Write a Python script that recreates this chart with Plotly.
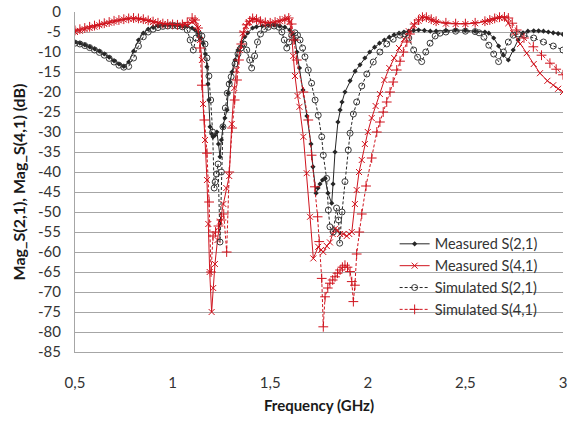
import plotly.graph_objects as go

# ---------------- data ----------------
x_tick_vals = [0.5, 1.0, 1.5, 2.0, 2.5, 3.0]
x_tick_text = ["0,5", "1", "1,5", "2", "2,5", "3"]
y_tick_vals = [0, -5, -10, -15, -20, -25, -30, -35, -40, -45, -50, -55, -60, -65, -70, -75, -80, -85]
y_tick_text = ["0", "-5", "-10", "-15", "-20", "-25", "-30", "-35", "-40", "-45", "-50", "-55",
               "-60", "-65", "-70", "-75", "-80", "-85"]

# Measured S(2,1)
meas21_f = [0.5, 0.525, 0.55, 0.575, 0.6, 0.625, 0.65, 0.675, 0.7, 0.725, 0.75, 0.775, 0.8, 0.825,
            0.85, 0.875, 0.9, 0.925, 0.95, 0.975, 1.0, 1.025, 1.05, 1.075, 1.1,
            1.115, 1.13, 1.145, 1.156, 1.168, 1.176, 1.181, 1.186, 1.192, 1.2, 1.207, 1.217, 1.227,
            1.235, 1.243, 1.25, 1.258, 1.268, 1.279, 1.284, 1.294, 1.304, 1.32, 1.335, 1.355, 1.37,
            1.385, 1.41,
            1.43, 1.46, 1.49, 1.52, 1.55, 1.575, 1.6, 1.615, 1.627, 1.637, 1.65, 1.668, 1.688, 1.709,
            1.719, 1.735, 1.745, 1.755, 1.768, 1.781, 1.796, 1.815, 1.822, 1.832, 1.847, 1.858, 1.868,
            1.883, 1.909, 1.935, 1.96, 1.985, 2.01, 2.035, 2.06, 2.085, 2.11, 2.135, 2.16, 2.185, 2.21,
            2.235,
            2.26, 2.29, 2.32, 2.35, 2.4, 2.45, 2.5, 2.55, 2.6, 2.62, 2.645, 2.67, 2.695, 2.72, 2.745,
            2.77, 2.795, 2.82, 2.85, 2.875, 2.9, 2.925, 2.95, 2.975, 3.0]
meas21_db = [-7.5, -7.8, -8.2, -8.7, -9.2, -9.8, -10.5, -11.3, -12.2, -13.0, -13.6, -12.5, -9.8, -7.0,
             -5.3, -4.3, -3.8, -3.5, -3.3, -3.2, -3.2, -3.3, -3.5, -3.6, -4.0,
             -4.5, -5.2, -6.5, -7.8, -10.5, -13.7, -18.0, -22.0, -28.7, -30.5, -31.2, -30.8, -30.0,
             -33.0, -36.2, -32.0, -28.7, -26.5, -24.5, -20.3, -17.5, -15.0, -12.0, -9.5, -7.5, -6.2,
             -5.2, -4.0,
             -3.7, -3.5, -3.3, -3.3, -3.5, -3.8, -4.5, -5.5, -7.0, -10.0, -14.0, -19.5, -26.0, -33.0,
             -38.7, -45.3, -44.0, -43.0, -42.0, -41.6, -45.3, -47.8, -43.0, -35.0, -27.5, -24.5, -22.5,
             -20.0, -17.2, -14.8, -13.2, -11.5, -10.0, -8.8, -7.8, -7.0, -6.3, -5.7, -5.3, -5.0, -4.8,
             -4.6,
             -4.5, -4.6, -4.8, -4.8, -4.6, -4.5, -4.6, -4.8, -5.0, -5.3, -6.5, -8.5, -10.8, -12.0, -9.5,
             -7.0, -5.2, -4.8, -4.7, -4.7, -4.8, -5.0, -5.2, -5.4, -5.6]

# Measured S(4,1)
meas41_f = [0.5, 0.525, 0.55, 0.575, 0.6, 0.625, 0.65, 0.675, 0.7, 0.725, 0.75, 0.775, 0.8, 0.825,
            0.85, 0.875, 0.9, 0.925, 0.95, 0.975, 1.0, 1.025, 1.05, 1.075, 1.1,
            1.115, 1.13, 1.14, 1.15, 1.156, 1.166, 1.176, 1.183, 1.19, 1.2, 1.208, 1.217, 1.23, 1.243,
            1.26, 1.275, 1.29, 1.303, 1.316, 1.328, 1.345, 1.359, 1.375, 1.39, 1.41,
            1.43, 1.45, 1.475, 1.5, 1.525, 1.55, 1.575, 1.59, 1.6, 1.61, 1.618, 1.627, 1.64, 1.65, 1.67,
            1.687, 1.704, 1.721, 1.746, 1.76, 1.772, 1.79, 1.806, 1.82, 1.832, 1.845, 1.858, 1.875,
            1.892, 1.905, 1.918, 1.934, 1.943, 1.955, 1.969, 1.985, 2.0, 2.02, 2.04, 2.062, 2.085, 2.11,
            2.135, 2.16, 2.185, 2.21, 2.235, 2.26, 2.278,
            2.3, 2.325, 2.35, 2.4, 2.45, 2.5, 2.55, 2.6, 2.625, 2.65, 2.675, 2.7, 2.72, 2.745, 2.78,
            2.814, 2.85, 2.882, 2.92, 2.95, 2.975, 3.0]
meas41_db = [-5.0, -4.7, -4.3, -4.0, -3.7, -3.3, -3.0, -2.7, -2.4, -2.1, -1.9, -1.7, -1.7, -1.8,
             -2.0, -2.2, -2.5, -2.8, -3.0, -3.1, -3.2, -3.3, -3.4, -3.3, -2.5,
             -2.2, -4.0, -7.0, -12.0, -23.0, -32.0, -42.0, -53.0, -65.0, -75.0, -69.0, -63.0, -57.0, -52.4,
             -48.0, -44.0, -41.0, -28.0, -19.0, -14.5, -9.5, -5.3, -3.5, -2.5, -1.8,
             -2.0, -2.5, -2.8, -2.8, -2.6, -2.3, -1.8, -1.6, -2.5, -5.5, -11.0, -16.0, -21.0, -23.7, -31.2,
             -40.3, -51.2, -61.6, -58.7, -59.5, -60.0, -58.5, -57.6, -55.5, -54.2, -54.5, -55.5, -55.5,
             -56.0, -55.5, -55.0, -48.0, -44.5, -40.0, -37.0, -33.0, -30.0, -26.5, -23.5, -20.5, -17.0, -14.0,
             -11.5, -9.0, -6.8, -4.8, -3.2, -2.2, -1.3,
             -1.5, -2.0, -2.5, -2.9, -3.0, -3.0, -2.8, -2.5, -2.2, -1.8, -1.4, -1.5, -2.8, -5.3, -8.0,
             -10.3, -13.0, -15.3, -17.2, -18.3, -19.2, -20.0]

# Simulated S(2,1)
sim21_f = [0.5, 0.525, 0.55, 0.575, 0.6, 0.625, 0.65, 0.675, 0.7, 0.725, 0.75, 0.775, 0.8, 0.825,
           0.85, 0.875, 0.9, 0.925, 0.95, 0.975, 1.0, 1.025, 1.05, 1.075,
           1.09, 1.106, 1.12, 1.135, 1.15, 1.166, 1.176, 1.186, 1.195, 1.205, 1.213, 1.218, 1.225, 1.233,
           1.243, 1.25, 1.258, 1.27, 1.28, 1.29, 1.3, 1.32, 1.335, 1.35, 1.365, 1.38, 1.395, 1.405, 1.42,
           1.435, 1.45, 1.47, 1.49, 1.52, 1.545, 1.56, 1.572, 1.585, 1.597, 1.61, 1.627, 1.64, 1.653,
           1.666, 1.678, 1.695, 1.712, 1.73, 1.746, 1.764, 1.772, 1.789, 1.798, 1.806, 1.823, 1.84, 1.85,
           1.856, 1.868, 1.883, 1.9, 1.909, 1.926, 1.943, 1.969, 1.995, 2.028, 2.062, 2.097, 2.13, 2.165,
           2.19, 2.21, 2.235, 2.255, 2.276, 2.297, 2.319, 2.345, 2.37, 2.4, 2.45, 2.5, 2.55, 2.57, 2.595,
           2.62, 2.645, 2.67, 2.695, 2.72, 2.745, 2.77, 2.8, 2.85, 2.9, 2.95, 3.0]
sim21_db = [-7.8, -8.0, -8.4, -8.9, -9.5, -10.1, -10.8, -11.6, -12.5, -13.3, -13.8, -13.6, -11.5, -8.5,
            -6.2, -5.0, -4.3, -3.9, -3.6, -3.5, -3.4, -3.5, -3.7, -4.5,
            -7.0, -9.5, -6.5, -5.5, -6.0, -8.0, -11.5, -16.0, -22.0, -30.0, -44.0, -42.5, -40.5, -38.0,
            -57.5, -40.0, -28.7, -24.0, -20.3, -18.0, -16.2, -13.0, -10.5, -9.0, -8.0, -9.5, -12.0, -14.0, -11.0,
            -7.5, -5.5, -4.3, -3.8, -3.5, -3.8, -5.0, -7.0, -9.0, -7.5, -5.8, -5.2, -5.8, -7.0,
            -9.0, -11.2, -14.5, -17.8, -22.0, -25.8, -31.2, -35.8, -41.6, -49.5, -53.7, -55.0, -49.0, -52.0,
            -57.8, -50.0, -42.4, -34.5, -30.3, -25.5, -22.5, -18.5, -15.5, -12.5, -10.0, -8.0, -6.8, -5.8,
            -5.5, -6.5, -9.5, -11.3, -12.4, -10.0, -7.8, -6.0, -5.3, -5.0, -4.8, -4.8, -4.9, -5.2, -6.3,
            -8.3, -10.5, -12.4, -10.0, -7.5, -5.8, -5.5, -5.8, -6.5, -7.5, -8.5, -9.5]

# Simulated S(4,1)
sim41_f = [0.5, 0.525, 0.55, 0.575, 0.6, 0.625, 0.65, 0.675, 0.7, 0.725, 0.75, 0.775, 0.8, 0.825,
           0.85, 0.875, 0.9, 0.925, 0.95, 0.975, 1.0, 1.025, 1.05, 1.075, 1.1,
           1.115, 1.13, 1.14, 1.15, 1.163, 1.176, 1.187, 1.197, 1.207, 1.22, 1.235, 1.25, 1.262, 1.277,
           1.29, 1.305, 1.318, 1.33, 1.34, 1.352, 1.365, 1.38, 1.395, 1.41,
           1.43, 1.45, 1.475, 1.5, 1.525, 1.55, 1.575, 1.595, 1.61, 1.622, 1.636, 1.67, 1.695, 1.712,
           1.729, 1.743, 1.751, 1.764, 1.772, 1.781, 1.795, 1.806, 1.82, 1.832, 1.845, 1.858, 1.87, 1.883,
           1.896, 1.909, 1.918, 1.926, 1.934, 1.943, 1.956, 1.969, 1.991, 2.02, 2.046, 2.062, 2.079, 2.097,
           2.114, 2.13, 2.148, 2.165, 2.182, 2.2, 2.216, 2.24, 2.26, 2.28,
           2.3, 2.325, 2.35, 2.4, 2.45, 2.5, 2.55, 2.6, 2.625, 2.65, 2.675, 2.7, 2.72, 2.74, 2.763, 2.8,
           2.848, 2.89, 2.933, 2.965, 3.0]
sim41_db = [-4.6, -4.3, -4.0, -3.7, -3.4, -3.1, -2.8, -2.5, -2.2, -2.0, -1.8, -1.6, -1.5, -1.6,
            -1.8, -2.1, -2.4, -2.7, -2.9, -3.0, -3.1, -3.2, -3.1, -2.6, -1.5,
            -2.0, -4.0, -9.0, -18.3, -27.0, -35.3, -47.5, -65.0, -56.0, -55.0, -53.5, -52.0, -50.5, -60.0,
            -40.0, -29.0, -22.0, -17.0, -12.0, -8.0, -5.0, -3.2, -2.3, -1.6,
            -1.8, -2.3, -2.6, -2.7, -2.5, -2.2, -1.8, -1.5, -3.0, -7.0, -12.0, -20.0, -27.0, -35.8,
            -43.7, -51.2, -57.4, -66.6, -78.7, -71.2, -69.0, -67.8, -67.0, -66.2, -65.3, -64.5, -63.8, -63.3,
            -63.8, -64.9, -67.4, -72.4, -68.3, -60.5, -55.0, -50.5, -43.5, -36.5, -30.0, -27.5, -25.0, -22.5,
            -20.0, -17.5, -14.5, -12.3, -10.0, -7.5, -5.5, -3.0, -2.0, -1.3,
            -1.3, -1.8, -2.3, -2.7, -2.9, -2.9, -2.7, -2.3, -2.0, -1.6, -1.3, -1.2, -1.5, -2.8, -4.5, -6.5,
            -8.7, -10.8, -12.8, -14.3, -15.7]

series_names = ["Measured S(2,1)", "Measured S(4,1)", "Simulated S(2,1)", "Simulated S(4,1)"]

# ---------------- figure ----------------
BLACK = "#262626"
RED = "#D0141E"
FONT = "Lato"
TXT = "#333333"

styles = [
    dict(line=dict(color=BLACK, width=1), marker=dict(symbol="diamond", size=4, color=BLACK)),
    dict(line=dict(color=RED, width=1), marker=dict(symbol="x-thin", size=6,
                                                    line=dict(color=RED, width=1), color=RED)),
    dict(line=dict(color=BLACK, width=1, dash="3px,2px"),
         marker=dict(symbol="circle-open", size=6, color="#3a3a3a", line=dict(width=1))),
    dict(line=dict(color=RED, width=1, dash="3px,2px"),
         marker=dict(symbol="cross-thin", size=7, line=dict(color=RED, width=1), color=RED)),
]
data = [(meas21_f, meas21_db), (meas41_f, meas41_db), (sim21_f, sim21_db), (sim41_f, sim41_db)]

fig = go.Figure()
for i, (name, (fx, fy), st) in enumerate(zip(series_names, data, styles)):
    fig.add_trace(go.Scatter(x=fx, y=fy, name=name, mode="lines+markers",
                             legendgroup=f"g{i}", **st))

fig.update_layout(
    width=571, height=421,
    margin=dict(l=75, r=8, t=12, b=69),
    paper_bgcolor="white", plot_bgcolor="white",
    font=dict(family=FONT, size=14, color=TXT),
    showlegend=True,
    legend=dict(x=0.655, y=0.365, xanchor="left", yanchor="top", bgcolor="rgba(0,0,0,0)",
                font=dict(family=FONT, size=14.5, color=TXT), tracegroupgap=0,
                itemwidth=30),
    xaxis=dict(range=[0.5, 3.0], tickvals=x_tick_vals, ticktext=x_tick_text, showgrid=False,
               showline=True, linecolor="#A6A6A6", linewidth=1, ticks="", zeroline=False,
               ticklabelstandoff=17, automargin=False, tickfont=dict(size=15, color=TXT),
               title=dict(text="<b>Frequency (GHz)</b>", font=dict(family=FONT, size=15, color="#1a1a1a"),
                          standoff=10)),
    yaxis=dict(range=[-85, 0], tickvals=y_tick_vals, ticktext=y_tick_text, showgrid=True,
               gridcolor="#A6A6A6", gridwidth=1, showline=True, linecolor="#A6A6A6", linewidth=1,
               ticks="", zeroline=False, ticklabelstandoff=10, automargin=False,
               tickfont=dict(size=15, color=TXT),
               title=dict(text="<b>Mag_S(2,1), Mag_S(4,1) (dB)</b>",
                          font=dict(family=FONT, size=16, color="#1a1a1a"), standoff=8)),
)

fig.write_html("out.html")
